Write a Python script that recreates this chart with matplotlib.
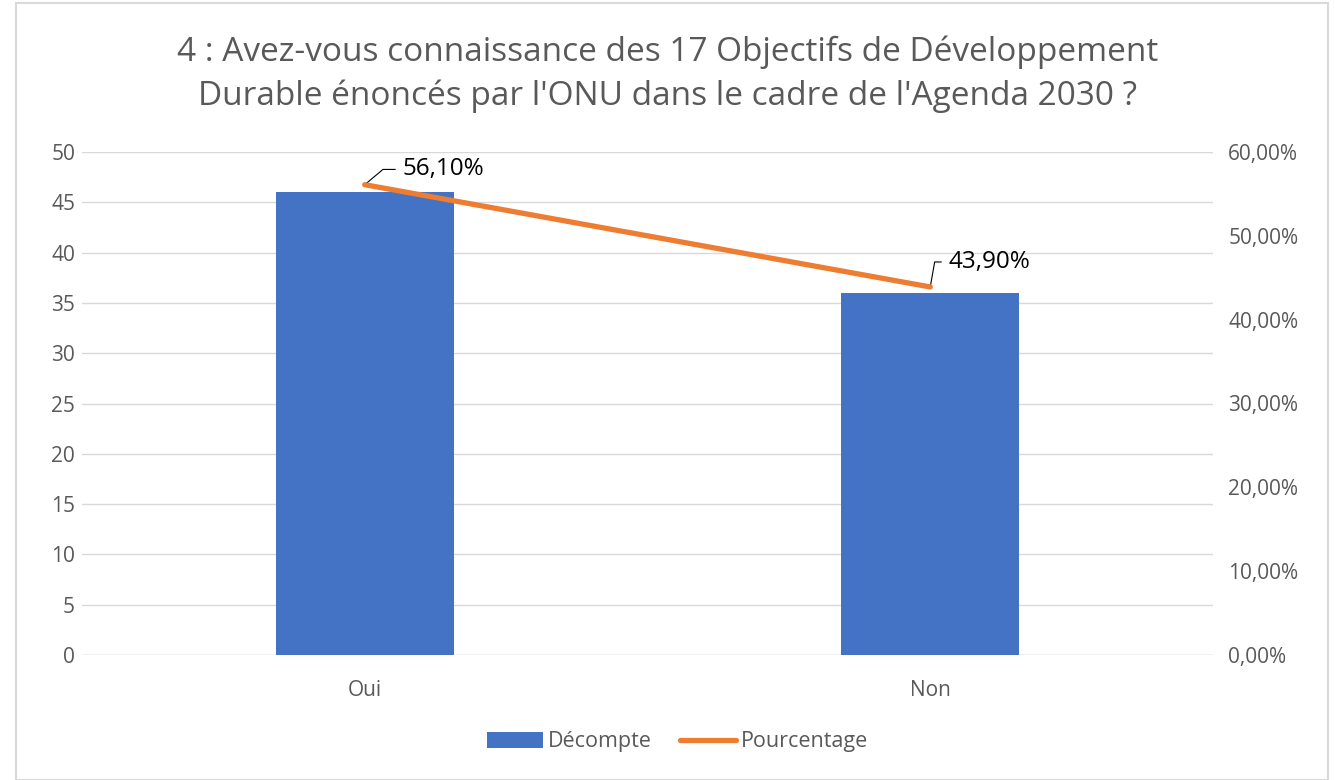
import matplotlib
matplotlib.use("Agg")
import matplotlib.pyplot as plt
from matplotlib.patches import Rectangle
from matplotlib.ticker import FuncFormatter

plt.rcParams['font.family'] = ['Open Sans', 'DejaVu Sans']

categories = ["Oui", "Non"]
counts = [46, 36]
percentages = [56.10, 43.90]
count_ticks = [0, 5, 10, 15, 20, 25, 30, 35, 40, 45, 50]
pct_ticks = [0, 10, 20, 30, 40, 50, 60]
title = "4 : Avez-vous connaissance des 17 Objectifs de Développement\nDurable énoncés par l'ONU dans le cadre de l'Agenda 2030 ?"

BLUE = "#4472C4"
ORANGE = "#ED7D31"
GRAY = "#595959"

fig = plt.figure(figsize=(13.35, 7.8), dpi=100)
fig.patches.append(Rectangle((16/1335, 0), (1328-16)/1335, (780-3)/780, transform=fig.transFigure,
                             fill=False, edgecolor="#d9d9d9", linewidth=1.5))

ax = fig.add_axes([82/1335, 125/780, (1213-82)/1335, (655-152)/780])
x = list(range(len(categories)))
ax.bar(x, counts, width=0.315, color=BLUE, zorder=3, label="Décompte")
ax.set_xlim(-0.5, 1.5)
ax.set_ylim(0, 50)
ax.set_yticks(count_ticks)
ax.set_xticks(x)
ax.set_xticklabels(categories)
ax.grid(axis='y', color="#d9d9d9", linewidth=1, zorder=0)
for s in ax.spines.values():
    s.set_visible(False)
ax.axhline(0, color="#d9d9d9", linewidth=1, zorder=2)
ax.tick_params(axis='both', length=0, labelsize=15, labelcolor=GRAY)
ax.tick_params(axis='y', pad=5)
ax.tick_params(axis='x', pad=18)

ax2 = ax.twinx()
ax2.set_ylim(0, 60)
ax2.set_yticks(pct_ticks)
ax2.yaxis.set_major_formatter(FuncFormatter(lambda v, p: f"{v:.2f}%".replace(".", ",")))
for s in ax2.spines.values():
    s.set_visible(False)
ax2.tick_params(axis='y', length=0, labelsize=15, labelcolor=GRAY, pad=11)
line, = ax2.plot(x, percentages, color=ORANGE, linewidth=3.8, solid_capstyle='round', zorder=4, label="Pourcentage")

offsets = [(27, 11), (13, 18)]
angles = [40, 80]
for xi, p, off, ang in zip(x, percentages, offsets, angles):
    ax2.annotate(f"{p:.2f}%".replace(".", ","), xy=(xi, p), xytext=off, textcoords='offset points',
                 fontsize=17.5, color="#000000", va='center', ha='left',
                 arrowprops=dict(arrowstyle='-', color="#000000", linewidth=0.8,
                                 connectionstyle=f"angle,angleA=0,angleB={ang},rad=0", shrinkA=3, shrinkB=0))

fig.text(0.5, 1 - 74/780, title, ha='center', va='center', fontsize=24, color=GRAY, linespacing=1.4)

handles = [ax.patches[0], line]
fig.legend(handles, ["Décompte", "Pourcentage"], loc='center', bbox_to_anchor=(0.5 + 10/1335, 1-742/780),
           ncol=2, frameon=False, fontsize=15.5, labelcolor=GRAY, handlelength=2.6, handleheight=0.8,
           columnspacing=1.35, handletextpad=0.22)

fig.savefig("out.png", dpi=100)
